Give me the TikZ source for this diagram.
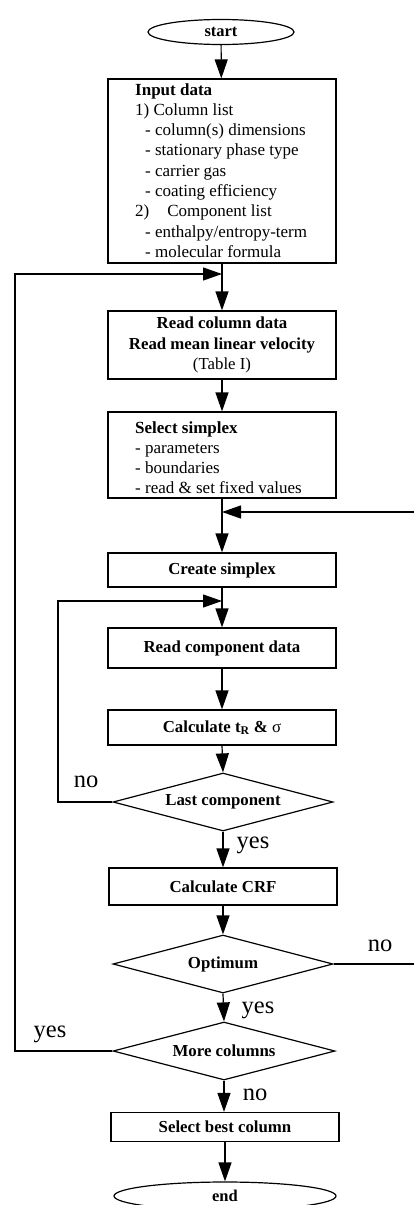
\documentclass[tikz,border=0pt]{standalone}
\usepackage{fontspec}
\setmainfont{Liberation Serif}
\usetikzlibrary{shapes.geometric,arrows.meta}
\begin{document}
\begin{tikzpicture}[x=1pt,y=-1pt,
  font=\fontsize{17}{20.3}\selectfont,
  box/.style={draw, line width=1.2pt, rectangle, minimum width=228pt, inner sep=0pt,
    align=center, font=\fontsize{16.8}{20.8}\selectfont\bfseries},
  term/.style={draw, line width=1.2pt, ellipse, inner sep=0pt,
    font=\fontsize{16.5}{18}\selectfont\bfseries},
  decision/.style={draw, line width=1.2pt, diamond, aspect=3.8, inner sep=0pt,
    minimum width=220pt, minimum height=58pt, font=\fontsize{16.8}{18}\selectfont\bfseries},
  listtext/.style={anchor=north west, align=left, inner sep=0pt,
    font=\fontsize{17}{20.3}\selectfont},
  arr/.style={line width=1.2pt, -{Triangle[length=19pt,width=13pt]}},
  lab/.style={anchor=base, inner sep=0pt, font=\fontsize{24.5}{24.5}\selectfont}]
\useasboundingbox (0,0) rectangle (414,1205);

% nodes
\node[term, minimum width=146pt, minimum height=25pt] (start) at (221,32) {start};
\node[box, minimum height=184pt] (input) at (222,171) {};
\node[listtext] (inputtxt) at (135,83) {\textbf{Input data}\\
1) Column list\\
\hspace*{10pt}- column(s) dimensions\\
\hspace*{10pt}- stationary phase type\\
\hspace*{10pt}- carrier gas\\
\hspace*{10pt}- coating efficiency\\
2)\hspace*{18pt}Component list\\
\hspace*{10pt}- enthalpy/entropy-term\\
\hspace*{10pt}- molecular formula};
\node[box, minimum height=68pt] (read) at (222,345) {Read column data\\Read mean linear velocity\\\mdseries (Table I)};
\node[box, minimum height=86pt] (select) at (222,455) {};
\node[listtext] (selecttxt) at (135,421) {\textbf{Select simplex}\\
- parameters\\
- boundaries\\
- read \& set fixed values};
\node[box, minimum height=34pt] (create) at (222,570) {Create simplex};
\node[box, minimum height=40pt] (readcomp) at (222,648) {Read component data};
\node[box, minimum height=35pt] (calc) at (222,727.5) {Calculate t\textsubscript{R} \& {\mdseries σ}};
\node[decision] (last) at (223,802) {Last component};
\node[box, minimum height=37pt] (crf) at (223,886.5) {Calculate CRF};
\node[decision] (opt) at (223,964) {Optimum};
\node[decision, minimum width=222pt] (more) at (224,1051) {More columns};
\node[box, minimum height=29pt] (best) at (225,1127) {Select best column};
\node[term, minimum width=222pt, minimum height=28pt] (end) at (225,1196) {end};

% junctions and loop corners
\coordinate (j1) at (222,274);
\coordinate (j2) at (222,601);
\coordinate (j3) at (222,512);
\coordinate (outerx) at (15,0);
\coordinate (innerx) at (58,0);
\coordinate (rightx) at (416,0);

% main flow
\draw[arr] (start) -- (input);
\draw[arr] (input) -- (read);
\draw[arr] (read) -- (select);
\draw[arr] (select) -- (create);
\draw[arr] (create) -- (readcomp);
\draw[arr] (readcomp) -- (calc);
\draw[arr] (calc.south) -- (last.north);
\draw[arr] (last.south) -- (crf.north);
\draw[arr] (crf.south) -- (opt.north);
\draw[arr] (opt.south) -- (more.north);
\draw[arr] (more.south) -- (more.south |- best.north);
\draw[arr] (best.south) -- (best.south |- end.north);

% loops
\draw[arr] (more.west) -- (more.west -| outerx) -- (outerx |- j1) -- (j1);
\draw[arr] (last.west) -- (last.west -| innerx) -- (innerx |- j2) -- (j2);
\draw[arr] (opt.east) -- (opt.east -| rightx) -- (rightx |- j3) -- (j3);

% labels
\node[lab] (no1) at (86,787) {no};
\node[lab] (yes1) at (253,848) {yes};
\node[lab] (no2) at (380,951) {no};
\node[lab] (yes2) at (258,1013) {yes};
\node[lab] (yes3) at (50,1037) {yes};
\node[lab] (no3) at (255,1100) {no};
\end{tikzpicture}
\end{document}
